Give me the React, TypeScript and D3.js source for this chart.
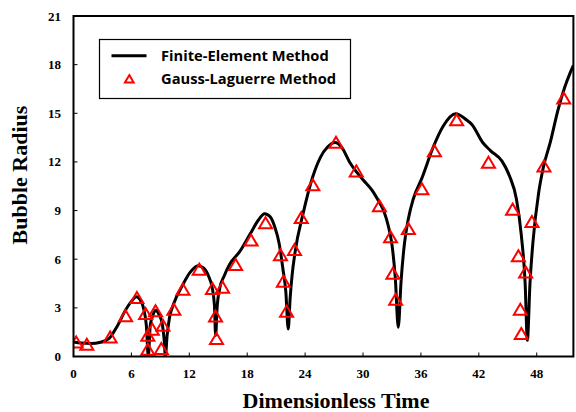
import React from "react";
import * as d3 from "d3";

const curveT = [0, 0.8, 1.8, 2.8, 3.7, 4.5, 5.4, 6.0, 6.5, 6.9, 7.3, 7.55, 7.75, 7.95, 8.2, 8.5, 8.85, 9.2, 9.4, 9.52, 9.7, 9.95, 10.4, 11.3, 12.1, 12.9, 13.5, 14.0, 14.35, 14.6, 14.73, 14.88, 15.15, 15.6, 16.2, 17.2, 18.3, 19.2, 19.8, 20.4, 20.85, 21.3, 21.7, 22.0, 22.25, 22.45, 22.65, 22.95, 23.8, 24.8, 25.6, 26.3, 27.1, 27.8, 28.6, 29.3, 30.0, 31.0, 31.6, 32.2, 32.6, 33.0, 33.35, 33.65, 33.95, 34.3, 34.7, 35.2, 36.1, 37.3, 38.3, 39.6, 40.7, 41.3, 42.4, 43.2, 44.4, 45.2, 45.9, 46.4, 46.8, 47.03, 47.3, 47.6, 48.2, 48.7, 49.4, 50.2, 50.9, 51.4, 51.8];
const curveR = [0.9, 0.83, 0.8, 0.88, 1.12, 1.84, 2.87, 3.4, 3.68, 3.5, 2.87, 1.9, 0.0, 1.9, 2.5, 2.85, 2.6, 2.0, 1.0, 0.0, 1.3, 2.4, 3.28, 4.4, 5.2, 5.6, 5.45, 4.95, 4.3, 3.2, 1.3, 3.0, 4.2, 4.95, 5.7, 6.45, 7.55, 8.45, 8.8, 8.6, 8.0, 7.0, 5.4, 4.0, 1.7, 3.6, 5.0, 6.4, 8.84, 11.1, 12.3, 12.9, 13.2, 12.9, 12.0, 11.4, 10.9, 10.2, 9.6, 8.9, 8.1, 6.9, 4.8, 1.8, 4.7, 7.0, 8.5, 9.7, 11.0, 12.95, 14.2, 14.97, 14.6, 14.3, 13.2, 12.7, 12.05, 11.1, 9.7, 7.5, 4.5, 1.0, 4.5, 7.0, 10.1, 11.7, 13.2, 15.2, 16.6, 17.4, 17.95];

const markT = [0.28, 1.38, 3.8, 5.4, 6.57, 7.47, 7.7, 7.7, 8.16, 8.5, 9.27, 9.1, 10.4, 11.34, 13.03, 14.4, 14.72, 14.82, 15.45, 16.8, 18.4, 19.9, 21.45, 21.75, 22.08, 22.9, 23.6, 24.8, 27.2, 29.3, 31.7, 32.85, 33.1, 33.38, 34.7, 36.1, 37.4, 39.7, 43.0, 45.5, 46.1, 46.85, 46.3, 46.4, 47.5, 48.75, 50.8];
const markR = [0.85, 0.71, 1.16, 2.46, 3.59, 2.6, 1.27, 0.4, 1.64, 2.77, 1.88, 0.44, 2.87, 4.1, 5.34, 4.15, 2.45, 1.06, 4.23, 5.63, 7.13, 8.2, 6.23, 4.6, 2.75, 6.55, 8.53, 10.54, 13.16, 11.4, 9.25, 7.33, 5.09, 3.48, 7.85, 10.3, 12.64, 14.56, 11.93, 9.04, 6.16, 5.17, 2.87, 1.37, 8.28, 11.7, 15.9];

const xTicks = [0, 6, 12, 18, 24, 30, 36, 42, 48];
const yTicks = [0, 3, 6, 9, 12, 15, 18, 21];
const legendLabels = ["Finite-Element Method", "Gauss-Laguerre Method"];

const W = 576, H = 412;
const L = 73.5, R = 573.4, T = 16, B = 356.5;

export default function App() {
  const x = d3.scaleLinear().domain([0, 51.8]).range([L, R]);
  const y = d3.scaleLinear().domain([0, 21]).range([B, T]);
  const pts: [number, number][] = curveT.map((t, i) => [t, curveR[i]]);
  const line = d3.line<[number, number]>().x(d => x(d[0])).y(d => y(d[1])).curve(d3.curveMonotoneX);
  const tri = (s: number) => `M0,${-0.6 * s}L${0.62 * s},${0.45 * s}L${-0.62 * s},${0.45 * s}Z`;
  const serif = "'Liberation Serif', 'Times New Roman', serif";
  const sans = "'Open Sans', 'Liberation Sans', sans-serif";
  return (
    <svg width={W} height={H} style={{ position: "absolute", left: 0, top: 0, background: "#fff" }}>
      <defs>
        <clipPath id="plotclip"><rect x={L} y={T} width={R - L} height={B - T} /></clipPath>
      </defs>
      <rect x={0} y={0} width={W} height={H} fill="#fff" />
      <g clipPath="url(#plotclip)">
        <path d={line(pts) || ""} fill="none" stroke="#000" strokeWidth={3} strokeLinejoin="round" />
        {markT.map((t, i) => (
          <path key={i} d={tri(10.5)} transform={`translate(${x(t)},${y(markR[i])})`} fill="none" stroke="#ff0000" strokeWidth={2} />
        ))}
      </g>
      <rect x={L} y={T} width={R - L} height={B - T} fill="none" stroke="#000" strokeWidth={2} />
      {xTicks.map(t => (
        <g key={"x" + t}>
          {t > 0 && <line x1={x(t)} x2={x(t)} y1={B} y2={B - 4} stroke="#000" strokeWidth={1} />}
          <text x={x(t)} y={378} textAnchor="middle" fontFamily={serif} fontWeight="bold" fontSize={13}>{t}</text>
        </g>
      ))}
      {yTicks.map(v => (
        <g key={"y" + v}>
          {v > 0 && v < 21 && <line x1={L} x2={L + 4} y1={y(v)} y2={y(v)} stroke="#000" strokeWidth={1} />}
          <text x={61} y={y(v) + 4.5} textAnchor="end" fontFamily={serif} fontWeight="bold" fontSize={13}>{v}</text>
        </g>
      ))}
      <text x={336} y={408} textAnchor="middle" fontFamily={serif} fontWeight="bold" fontSize={22}>Dimensionless Time</text>
      <text transform={`translate(26.5,175) rotate(-90)`} textAnchor="middle" fontFamily={serif} fontWeight="bold" fontSize={22}>Bubble Radius</text>
      <rect x={99.5} y={39.5} width={251} height={59} fill="#fff" stroke="#000" strokeWidth={1.2} />
      <line x1={111.5} x2={146.5} y1={55.7} y2={55.7} stroke="#000" strokeWidth={3} />
      <path d={tri(7)} transform={`translate(129.3,79.3)`} fill="none" stroke="#ff0000" strokeWidth={2} />
      <text x={161} y={60.5} fontFamily={sans} fontWeight="bold" fontSize={14.7}>{legendLabels[0]}</text>
      <text x={161} y={84} fontFamily={sans} fontWeight="bold" fontSize={14.7}>{legendLabels[1]}</text>
    </svg>
  );
}
